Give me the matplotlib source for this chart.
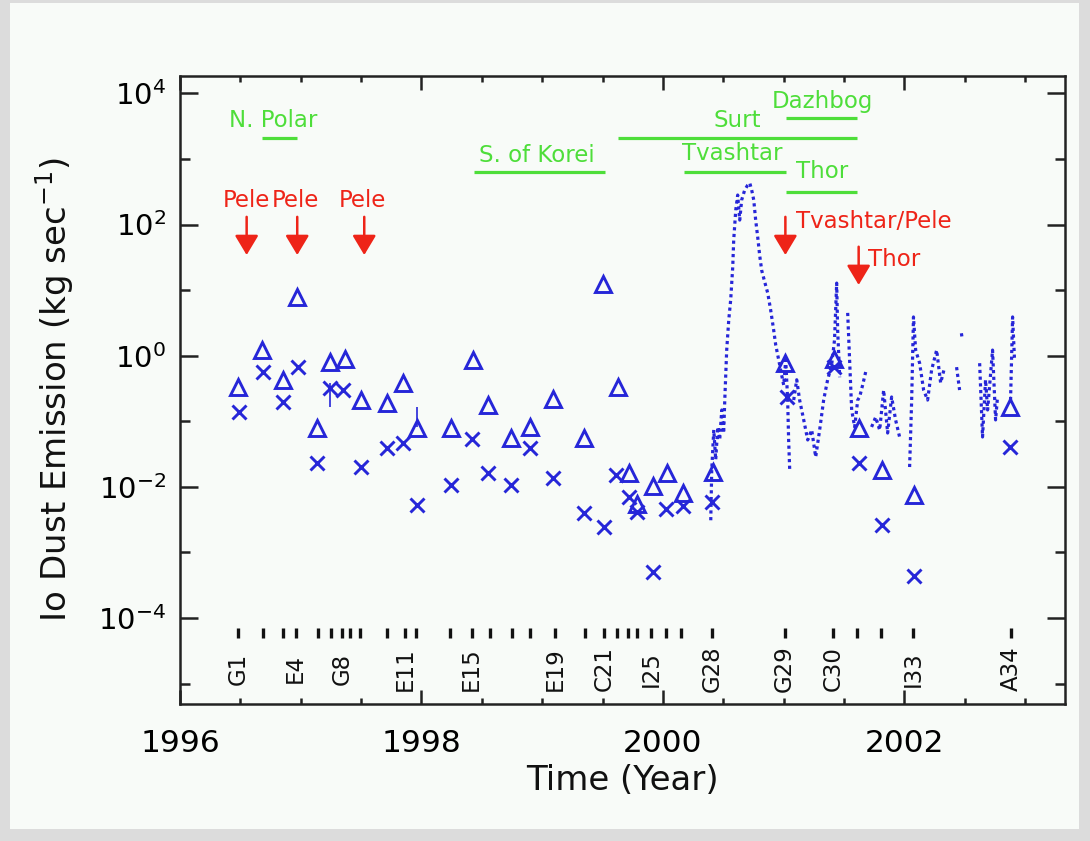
import matplotlib
matplotlib.use("Agg")
import matplotlib.pyplot as plt
import numpy as np
from matplotlib.patches import Rectangle
from matplotlib.ticker import FixedLocator, FuncFormatter, NullFormatter

plt.rcParams['font.family'] = ['DejaVu Sans']
plt.rcParams['mathtext.fontset'] = 'dejavusans'

BLUE = '#2626d8'
GREEN = '#4ede3a'
RED = '#ee2418'

# ---------------- data ----------------
tri_years = [1996.483, 1996.681, 1996.850, 1996.966, 1997.137, 1997.242, 1997.366,
             1997.496, 1997.711, 1997.849, 1997.959, 1998.241, 1998.423, 1998.552,
             1998.738, 1998.901, 1999.093, 1999.349, 1999.507, 1999.625, 1999.719,
             1999.921, 2000.030, 1999.787, 2000.163, 2000.417, 2001.014, 2001.413,
             2001.620, 2001.812, 2002.079, 2002.871]
tri_values = [0.337, 1.22, 0.426, 7.76, 0.078, 0.81, 0.88,
              0.211, 0.188, 0.38, 0.078, 0.078, 0.86, 0.177,
              0.0551, 0.0828, 0.216, 0.0551, 12.4, 0.330, 0.01645,
              0.01033, 0.01645, 0.00548, 0.00816, 0.0171, 0.78, 0.88,
              0.078, 0.0181, 0.00753, 0.163]

x_years = [1996.491, 1996.690, 1996.850, 1996.979, 1997.137, 1997.242, 1997.352,
           1997.496, 1997.711, 1997.849, 1997.959, 1998.241, 1998.415, 1998.552,
           1998.738, 1998.901, 1999.093, 1999.349, 1999.512, 1999.609, 1999.719,
           1999.787, 1999.921, 2000.023, 2000.163, 2000.408, 2001.029, 2001.413,
           2001.620, 2001.812, 2002.079, 2002.871]
x_values = [0.140, 0.570, 0.199, 0.68, 0.0229, 0.318, 0.300,
            0.0203, 0.0387, 0.0462, 0.0053, 0.0107, 0.0532, 0.0161,
            0.0107, 0.0387, 0.0135, 0.00396, 0.00242, 0.0152, 0.0071,
            0.00419, 0.000509, 0.00456, 0.00512, 0.00594, 0.237, 0.68,
            0.0234, 0.00263, 0.000438, 0.041]

err_years = [1997.959, 1997.242]
err_low = [0.083, 0.165]
err_high = [0.167, 0.384]

# continuous (dotted) dust-emission records, separated segments
seg_years = [
    [2000.396, 2000.404, 2000.421, 2000.437, 2000.454, 2000.470, 2000.487, 2000.503,
     2000.512, 2000.528, 2000.545, 2000.561, 2000.578, 2000.586, 2000.603, 2000.619,
     2000.636, 2000.652, 2000.677, 2000.702, 2000.719, 2000.735, 2000.752, 2000.768,
     2000.785, 2000.801, 2000.818, 2000.843, 2000.868, 2000.892, 2000.917, 2000.934,
     2000.959, 2000.983, 2001.000, 2001.017, 2001.033, 2001.041, 2001.050],
    [2001.083, 2001.108, 2001.132, 2001.166, 2001.199, 2001.232, 2001.265, 2001.298,
     2001.331, 2001.364, 2001.397, 2001.421, 2001.439, 2001.447, 2001.464],
    [2001.530, 2001.546, 2001.563, 2001.588, 2001.613, 2001.629, 2001.654, 2001.679],
    [2001.728, 2001.762, 2001.795, 2001.828, 2001.861, 2001.894, 2001.927, 2001.960],
    [2002.043, 2002.060, 2002.075, 2002.093, 2002.126, 2002.159, 2002.192, 2002.225,
     2002.267, 2002.300, 2002.333],
    [2002.432, 2002.457],
    [2002.472, 2002.476],
    [2002.623, 2002.647, 2002.672, 2002.689, 2002.730, 2002.755, 2002.771],
    [2002.879, 2002.896, 2002.912],
]
seg_values = [
    [0.0031, 0.018, 0.074, 0.026, 0.082, 0.052, 0.149, 0.066,
     0.21, 1.22, 3.5, 7.1, 22.5, 58, 166, 282,
     117, 237, 336, 400, 430, 336, 237, 117,
     64, 34, 20, 13.3, 9.0, 5.0, 2.47, 1.46,
     0.86, 0.51, 0.357, 0.86, 0.211, 0.052, 0.018],
    [0.211, 0.43, 0.211, 0.105, 0.052, 0.074, 0.0286, 0.074,
     0.211, 0.43, 0.72, 1.74, 12.8, 2.47, 0.47],
    [4.5, 0.86, 0.149, 0.082, 0.211, 0.235, 0.357, 0.565],
    [0.082, 0.116, 0.0736, 0.30, 0.0663, 0.235, 0.105, 0.0577],
    [0.0201, 0.211, 3.9, 1.22, 0.77, 0.30, 0.211, 0.605, 1.22, 0.384, 0.67],
    [0.67, 0.30],
    [2.2, 1.95],
    [0.77, 0.0577, 0.43, 0.149, 1.22, 0.105, 0.235],
    [0.211, 3.9, 0.86],
]

flyby_years = [1996.483, 1996.685, 1996.855, 1996.958, 1997.145, 1997.250, 1997.341,
               1997.407, 1997.490, 1997.711, 1997.863, 1997.951, 1998.235, 1998.415,
               1998.566, 1998.746, 1998.897, 1999.104, 1999.353, 1999.510, 1999.623,
               1999.711, 1999.781, 1999.905, 2000.029, 2000.153, 2000.407, 2001.008,
               2001.408, 2001.610, 2001.809, 2002.070, 2002.885]
label_flybys = ['G1', 'E4', 'G8', 'E11', 'E15', 'E19', 'C21', 'I25', 'G28',
                'G29', 'C30', 'I33', 'A34']
label_years = [1996.483, 1996.958, 1997.341, 1997.863, 1998.415, 1999.104, 1999.510,
               1999.905, 2000.407, 2001.008, 2001.408, 2002.070, 2002.885]
flyby_dash_y = 6.0e-5
flyby_label_y = 1.68e-5

# green source-activity bars
green_names = ['N. Polar', 'S. of Korei', 'Surt', 'Dazhbog', 'Tvashtar', 'Thor']
green_text_x = [1996.774, 1998.955, 2000.619, 2001.323, 2000.570, 2001.315]
green_text_y = [3920, 1146, 3920, 7630, 1230, 655]
green_start = [1996.68, 1998.434, 1999.626, 2001.017, 2000.172, 2001.017]
green_end = [1996.97, 1999.518, 2001.604, 2001.604, 2001.017, 2001.604]
green_y = [2085, 638, 2085, 4160, 638, 316]

# red eruption arrows
red_names = ['Pele', 'Pele', 'Pele', 'Tvashtar/Pele', 'Thor']
red_text_x = [1996.552, 1996.958, 1997.511, 2001.099, 2001.695]
red_text_y = [236, 236, 236, 113, 29.8]
red_ha = ['center', 'center', 'center', 'left', 'left']
arrow_x = [1996.552, 1996.971, 1997.526, 2001.014, 2001.621]
arrow_top = [131, 131, 131, 131, 45.9]
arrow_tip = [34.3, 34.3, 34.3, 34.3, 12.0]

year_ticks = [1996, 1998, 2000, 2002]
year_minor = [1996.5, 1997, 1997.5, 1998.5, 1999, 1999.5, 2000.5, 2001, 2001.5,
              2002.5, 2003]
y_major = [1e-4, 1e-2, 1e0, 1e2, 1e4]
y_minor = [1e-5, 1e-3, 1e-1, 1e1, 1e3]

# ---------------- figure ----------------
W, H = 1090, 841
fig = plt.figure(figsize=(W / 100, H / 100), dpi=100)
fig.patch.set_facecolor('#dcdcdc')
fig.patches.append(Rectangle((10 / W, 1 - 829 / H), (1079 - 10) / W, (829 - 3) / H,
                             transform=fig.transFigure, facecolor='#f8fbf8',
                             edgecolor='none', zorder=-10))

ax = fig.add_axes([180 / W, 1 - 704 / H, (1065 - 180) / W, (704 - 76) / H])
ax.set_zorder(5)
ax.set_facecolor('#f8fbf8')
ax.set_yscale('log')
ax.set_xlim(1996, 2003.33)
ax.set_ylim(4.9e-6, 1.84e4)

# dotted continuous records
for sx, sv in zip(seg_years, seg_values):
    ax.plot(sx, sv, color=BLUE, lw=2.3, ls=(0, (1.0, 1.1)), zorder=3)

ax.plot(tri_years, tri_values, ls='none', marker='^', ms=11.5, mfc='none',
        mec=BLUE, mew=2.1, zorder=4)
ax.plot(x_years, x_values, ls='none', marker='x', ms=10.5, mec=BLUE, mew=2.1, zorder=4)
ax.vlines(err_years, err_low, err_high, color=BLUE, lw=1.2, zorder=4)

# flyby dashes and labels
ax.plot(flyby_years, [flyby_dash_y] * len(flyby_years), ls='none', marker='|',
        ms=7, mew=2.4, color='#111111')
for name, xv in zip(label_flybys, label_years):
    ax.text(xv, flyby_label_y, name, rotation=90, ha='center', va='center',
            fontsize=16.5, color='#111111')

# green bars
for name, tx, ty, x0, x1, gy in zip(green_names, green_text_x, green_text_y,
                                    green_start, green_end, green_y):
    ax.text(tx, ty, name, ha='center', va='center', fontsize=16.5, color=GREEN)
    ax.plot([x0, x1], [gy, gy], color=GREEN, lw=2.3, solid_capstyle='butt')

# red arrows
for name, tx, ty, ha in zip(red_names, red_text_x, red_text_y, red_ha):
    ax.text(tx, ty, name, ha=ha, va='center', fontsize=16.5, color=RED)
for xa, y0, y1 in zip(arrow_x, arrow_top, arrow_tip):
    ax.annotate('', xy=(xa, y1), xytext=(xa, y0),
                arrowprops=dict(arrowstyle='-|>,head_length=0.6,head_width=0.36',
                                color=RED, lw=1.8, mutation_scale=20,
                                shrinkA=0, shrinkB=0))

# axes styling
ax.xaxis.set_major_locator(FixedLocator(year_ticks))
ax.xaxis.set_minor_locator(FixedLocator(year_minor))
ax.xaxis.set_major_formatter(FuncFormatter(lambda v, p: '%d' % round(v)))
ax.yaxis.set_major_locator(FixedLocator(y_major))
ax.yaxis.set_minor_locator(FixedLocator(y_minor))
ax.yaxis.set_major_formatter(FuncFormatter(lambda v, p: r'$10^{%d}$' % round(np.log10(v))))
ax.yaxis.set_minor_formatter(NullFormatter())

ax.tick_params(axis='both', which='both', direction='in', top=True, right=True,
               width=1.8, color='#222222')
ax.tick_params(axis='x', which='major', length=10, pad=18, labelsize=22.5)
ax.tick_params(axis='x', which='minor', length=4.5)
ax.tick_params(axis='y', which='major', length=13, pad=10, labelsize=21)
ax.tick_params(axis='y', which='minor', length=7)
for sp in ax.spines.values():
    sp.set_linewidth(1.8)
    sp.set_color('#222222')

ax.set_xlabel('Time (Year)', fontsize=24.5, labelpad=4, color='#111111')
ax.set_ylabel(r'Io Dust Emission (kg sec$^{-1}$)', fontsize=24.5, labelpad=16,
              color='#111111')

fig.savefig('out.png', dpi=100, facecolor=fig.get_facecolor())
